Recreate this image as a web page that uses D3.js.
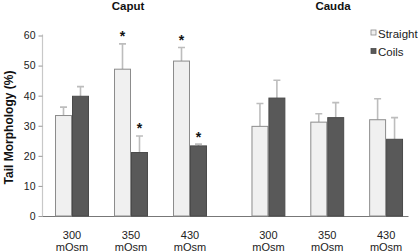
<!DOCTYPE html>
<html><head><meta charset="utf-8">
<script src="https://cdn.jsdelivr.net/npm/d3@7"></script>
<style>body{margin:0;background:#fff}svg{display:block;font-family:"Liberation Sans",Arial,Helvetica,sans-serif}</style>
</head><body><svg id="c" width="418" height="252"></svg>
<script>
const panels = ["Caput", "Cauda"];
const categories = ["300", "350", "430"];
const unitLabel = "mOsm";
const seriesNames = ["Straight", "Coils"];
// values[panel][category]
const straightMean = [[33.4, 48.8, 51.5], [29.8, 31.2, 32.0]];
const straightErr  = [[2.8, 8.4, 4.5], [7.6, 2.8, 7.0]];
const coilsMean    = [[39.8, 21.1, 23.3], [39.2, 32.7, 25.5]];
const coilsErr     = [[3.2, 5.5, 0.6], [5.9, 5.0, 7.2]];
const straightSig  = [[false, true, true], [false, false, false]];
const coilsSig     = [[false, true, true], [false, false, false]];
const yTicks = [0, 10, 20, 30, 40, 50, 60];

const svg = d3.select("#c");
const y = d3.scaleLinear().domain([0, 60]).range([216, 35.5]);
const panelRanges = [[42.5, 219.5], [239, 415.5]];
const titleX = [128, 333];
const xs = panelRanges.map(r => d3.scaleBand().domain(categories).range(r).paddingInner(0.424).paddingOuter(0.212));

const fills = {Straight: "#f0f0f0", Coils: "#595959"};
const strokes = {Straight: "#8c8c8c", Coils: "#4a4a4a"};

// y axis
const yAxis = d3.axisLeft(y).tickValues(yTicks).tickSize(4).tickPadding(3);
const gy = svg.append("g").attr("transform", "translate(42.5,0)").call(yAxis);
gy.select(".domain").attr("stroke", "#c8c8c8").attr("stroke-width", 1.2).attr("d", `M0,${y(60)-1}V${y(0)}`);
gy.selectAll(".tick line").attr("stroke", "#999");
gy.selectAll(".tick text").attr("font-size", 10.5).attr("fill", "#222").attr("font-family", "'Liberation Sans',Arial,sans-serif");

svg.append("text").attr("transform", "translate(13,127.5) rotate(-90)").attr("text-anchor", "middle")
  .attr("font-size", 12).attr("font-weight", "bold").attr("fill", "#111").text("Tail Morphology (%)");

// x axis line
svg.append("line").attr("x1", 42.5).attr("x2", 408.5).attr("y1", y(0)+0.5).attr("y2", y(0)+0.5).attr("stroke", "#777").attr("stroke-width", 1);

panels.forEach((p, pi) => {
  const x = xs[pi];
  const bw = x.bandwidth() / 2;
  svg.append("text").attr("x", titleX[pi]).attr("y", 9.5).attr("text-anchor", "middle")
    .attr("font-size", 11.5).attr("font-weight", "bold").attr("fill", "#111").text(p);
  const rows = [];
  categories.forEach((c, ci) => {
    rows.push({s: "Straight", c, v: straightMean[pi][ci], e: straightErr[pi][ci], sig: straightSig[pi][ci]});
    rows.push({s: "Coils", c, v: coilsMean[pi][ci], e: coilsErr[pi][ci], sig: coilsSig[pi][ci]});
  });
  const g = svg.append("g");
  const bx = d => x(d.c) + (d.s === "Straight" ? 0 : bw);
  g.selectAll(".eb").data(rows).join("path")
    .attr("d", d => { const cx = bx(d) + bw/2; return `M${cx},${y(d.v)}V${y(d.v+d.e)}M${cx-3.5},${y(d.v+d.e)}H${cx+3.5}`; })
    .attr("stroke", "#bdbdbd").attr("stroke-width", 1.6).attr("fill", "none");
  g.selectAll(".bar").data(rows).join("rect")
    .attr("x", d => bx(d) + 0.5).attr("y", d => y(d.v)).attr("width", bw - 1).attr("height", d => y(0) - y(d.v))
    .attr("fill", d => fills[d.s]).attr("stroke", d => strokes[d.s]).attr("stroke-width", 1);
  g.selectAll(".star").data(rows.filter(d => d.sig)).join("text")
    .attr("x", d => bx(d) + bw/2).attr("y", d => y(d.v + d.e) - 2.5).attr("text-anchor", "middle")
    .attr("font-size", 14).attr("font-weight", "bold").attr("fill", "#111").text("*");
  const lab = svg.append("g").selectAll("text").data(categories).join("text")
    .attr("x", c => x(c) + x.bandwidth()/2).attr("y", 238.5).attr("text-anchor", "middle")
    .attr("font-size", 11).attr("fill", "#222");
  lab.append("tspan").attr("x", c => x(c) + x.bandwidth()/2).text(c => c);
  lab.append("tspan").attr("x", c => x(c) + x.bandwidth()/2).attr("dy", 12.6).text(unitLabel);
});

// legend
const lg = svg.append("g").selectAll("g").data(seriesNames).join("g")
  .attr("transform", (d, i) => `translate(371,${30 + i*18.5})`);
lg.append("rect").attr("x", 0).attr("y", 0).attr("width", 5).attr("height", 5)
  .attr("fill", d => fills[d]).attr("stroke", d => strokes[d]).attr("stroke-width", 0.8);
lg.append("text").attr("x", 7).attr("y", 7.5).attr("font-size", 11.5).attr("fill", "#222").text(d => d);
</script></body></html>
